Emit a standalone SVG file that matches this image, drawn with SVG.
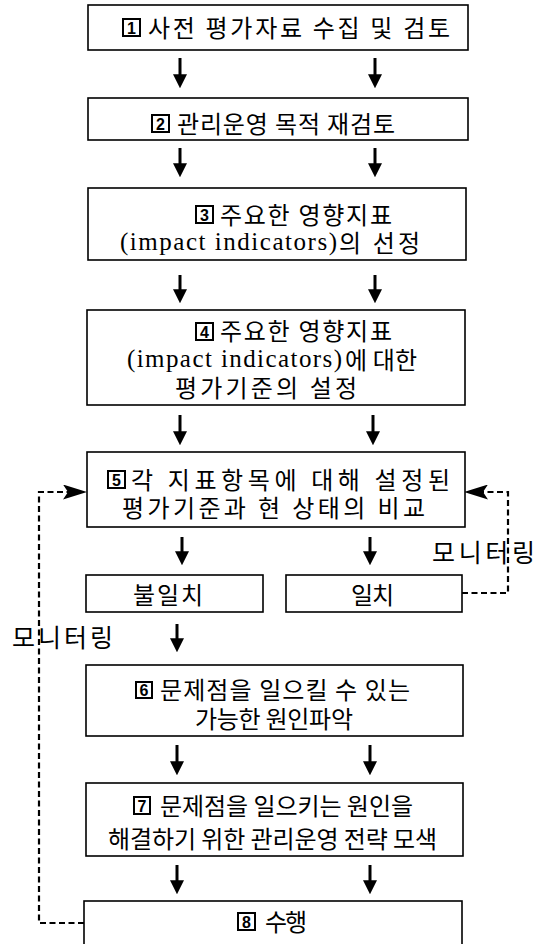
<svg xmlns="http://www.w3.org/2000/svg" width="551" height="944" viewBox="0 0 551 944">
<defs>
<style>
.box{fill:#fff;stroke:#000;stroke-width:1.6}
.num{fill:#fff;stroke:#000;stroke-width:2}
.nd{font-family:"Liberation Sans",sans-serif;font-weight:bold;font-size:16px;text-anchor:middle;fill:#000}
.t{font-family:"Noto Sans CJK KR",sans-serif;font-size:24px;fill:#000}
.l{font-family:"Liberation Serif",serif;font-size:25px;fill:#000}
.m{font-family:"Noto Sans CJK KR",sans-serif;font-size:25px;fill:#000}
.arr{stroke:#000;stroke-width:3;fill:none}
.dash{stroke:#000;stroke-width:2.2;fill:none;stroke-dasharray:6 3.5}
</style>
<marker id="ah" markerUnits="userSpaceOnUse" markerWidth="14" markerHeight="14" viewBox="0 0 13 13" refX="9" refY="6.5" orient="auto">
<path d="M0,0 L13,6.5 L0,13 z" fill="#000"/>
</marker>
<marker id="dh" markerUnits="userSpaceOnUse" markerWidth="24" markerHeight="15" viewBox="0 0 24 15" refX="22" refY="7.5" orient="auto">
<path d="M0,0 L24,7.5 L0,15 L5,7.5 z" fill="#000"/>
</marker>
</defs>
<rect width="551" height="944" fill="#fff"/>

<g id="connectors">
<line class="arr" x1="180" y1="58" x2="180" y2="84" marker-end="url(#ah)"/>
<line class="arr" x1="375" y1="58" x2="375" y2="84" marker-end="url(#ah)"/>
<line class="arr" x1="180" y1="148" x2="180" y2="173" marker-end="url(#ah)"/>
<line class="arr" x1="375" y1="148" x2="375" y2="173" marker-end="url(#ah)"/>
<line class="arr" x1="180" y1="275" x2="180" y2="299" marker-end="url(#ah)"/>
<line class="arr" x1="375" y1="275" x2="375" y2="299" marker-end="url(#ah)"/>
<line class="arr" x1="180" y1="415" x2="180" y2="441" marker-end="url(#ah)"/>
<line class="arr" x1="373" y1="415" x2="373" y2="441" marker-end="url(#ah)"/>
<line class="arr" x1="182" y1="537" x2="182" y2="561" marker-end="url(#ah)"/>
<line class="arr" x1="370" y1="537" x2="370" y2="561" marker-end="url(#ah)"/>
<line class="arr" x1="177" y1="624" x2="177" y2="648" marker-end="url(#ah)"/>
<line class="arr" x1="177" y1="745" x2="177" y2="771" marker-end="url(#ah)"/>
<line class="arr" x1="370" y1="745" x2="370" y2="771" marker-end="url(#ah)"/>
<line class="arr" x1="177" y1="865" x2="177" y2="890" marker-end="url(#ah)"/>
<line class="arr" x1="370" y1="865" x2="370" y2="890" marker-end="url(#ah)"/>
<polyline class="dash" points="84,923 39,923 39,492 85,492" marker-end="url(#dh)"/>
<polyline class="dash" points="462,593 508,593 508,492 466,492" marker-end="url(#dh)"/>
</g>

<g id="n1">
<rect class="box" x="88" y="5" width="380" height="45"/>
<rect class="num" x="123" y="19" width="17" height="17"/>
<text class="nd" x="131.5" y="33.5">1</text>
<text class="t" x="148" y="37" textLength="302" lengthAdjust="spacing">사전 평가자료 수집 및 검토</text>
</g>

<g id="n2">
<rect class="box" x="88" y="98" width="380" height="42"/>
<rect class="num" x="152" y="115" width="17" height="17"/>
<text class="nd" x="160.5" y="129.5">2</text>
<text class="t" x="177" y="133" textLength="218" lengthAdjust="spacing">관리운영 목적 재검토</text>
</g>

<g id="n3">
<rect class="box" x="88" y="188" width="378" height="72"/>
<rect class="num" x="196" y="206" width="17" height="17"/>
<text class="nd" x="204.5" y="220.5">3</text>
<text class="t" x="220" y="224" textLength="172" lengthAdjust="spacing">주요한 영향지표</text>
<text class="l" x="120" y="250" textLength="217" lengthAdjust="spacing">(impact indicators)</text>
<text class="t" x="339" y="252" textLength="81" lengthAdjust="spacing">의 선정</text>
</g>

<g id="n4">
<rect class="box" x="87" y="310" width="378" height="95"/>
<rect class="num" x="196" y="323" width="17" height="17"/>
<text class="nd" x="204.5" y="337.5">4</text>
<text class="t" x="220" y="340" textLength="172" lengthAdjust="spacing">주요한 영향지표</text>
<text class="l" x="127" y="367" textLength="215" lengthAdjust="spacing">(impact indicators)</text>
<text class="t" x="345" y="369" textLength="72" lengthAdjust="spacing">에 대한</text>
<text class="t" x="175" y="397" textLength="182" lengthAdjust="spacing">평가기준의 설정</text>
</g>

<g id="n5">
<rect class="box" x="87" y="452" width="378" height="75"/>
<rect class="num" x="108" y="471" width="17" height="17"/>
<text class="nd" x="116.5" y="485.5">5</text>
<text class="t" x="131" y="489" textLength="319" lengthAdjust="spacing">각 지표항목에 대해 설정된</text>
<text class="t" x="122" y="517" textLength="303" lengthAdjust="spacing">평가기준과 현 상태의 비교</text>
</g>

<g id="mismatch">
<rect class="box" x="86" y="575" width="177" height="37"/>
<text class="t" x="133" y="604" textLength="70" lengthAdjust="spacing">불일치</text>
</g>

<g id="match">
<rect class="box" x="286" y="575" width="176" height="37"/>
<text class="t" x="351" y="604" textLength="43" lengthAdjust="spacing">일치</text>
</g>

<g id="monitor-right">
<text class="m" x="432" y="562" textLength="103" lengthAdjust="spacing">모니터링</text>
</g>

<g id="monitor-left">
<text class="m" x="12" y="647" textLength="101" lengthAdjust="spacing">모니터링</text>
</g>

<g id="n6">
<rect class="box" x="86" y="665" width="377" height="71"/>
<rect class="num" x="136" y="682" width="16" height="16"/>
<text class="nd" x="144" y="696">6</text>
<text class="t" x="160" y="699" textLength="250" lengthAdjust="spacing">문제점을 일으킬 수 있는</text>
<text class="t" x="195" y="728" textLength="158" lengthAdjust="spacing">가능한 원인파악</text>
</g>

<g id="n7">
<rect class="box" x="86" y="783" width="377" height="73"/>
<rect class="num" x="134" y="797" width="16" height="17"/>
<text class="nd" x="142" y="811.5">7</text>
<text class="t" x="160" y="815" textLength="253" lengthAdjust="spacing">문제점을 일으키는 원인을</text>
<text class="t" x="108" y="848" textLength="329" lengthAdjust="spacing">해결하기 위한 관리운영 전략 모색</text>
</g>

<g id="n8">
<rect class="box" x="84" y="901" width="378" height="60"/>
<rect class="num" x="238" y="913" width="17" height="17"/>
<text class="nd" x="246.5" y="927.5">8</text>
<text class="t" x="265" y="931" textLength="42" lengthAdjust="spacing">수행</text>
</g>
</svg>
